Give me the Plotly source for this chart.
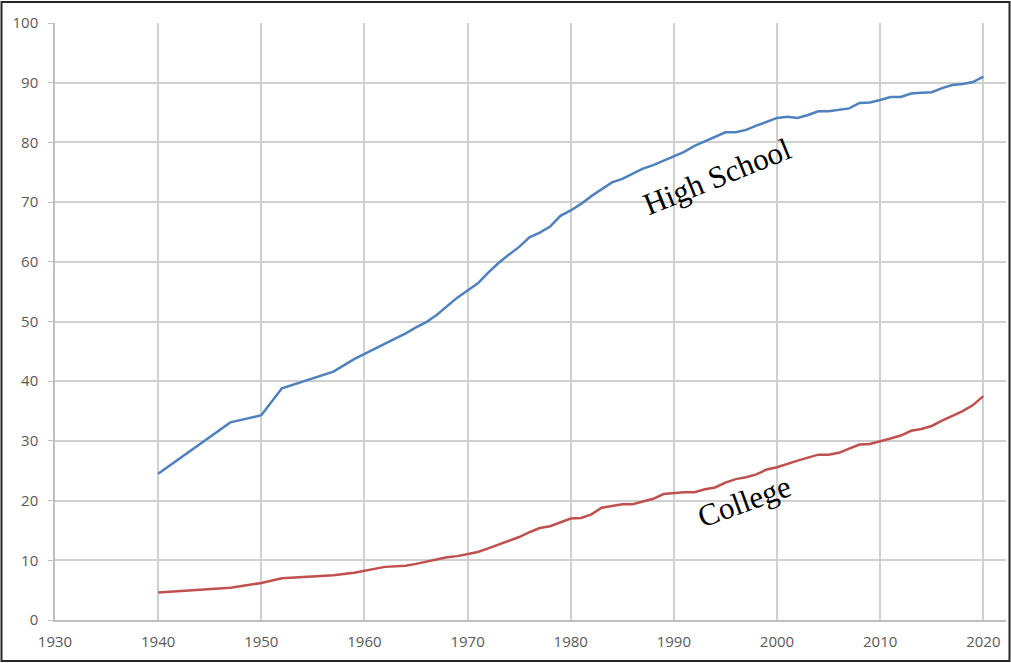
import plotly.graph_objects as go

years = [1940, 1947, 1950, 1952, 1957, 1959, 1962, 1964, 1965, 1966, 1967, 1968, 1969,
         1970, 1971, 1972, 1973, 1974, 1975, 1976, 1977, 1978, 1979, 1980, 1981, 1982,
         1983, 1984, 1985, 1986, 1987, 1988, 1989, 1990, 1991, 1992, 1993, 1994, 1995,
         1996, 1997, 1998, 1999, 2000, 2001, 2002, 2003, 2004, 2005, 2006, 2007, 2008,
         2009, 2010, 2011, 2012, 2013, 2014, 2015, 2016, 2017, 2018, 2019, 2020]

high_school = [24.5, 33.1, 34.3, 38.8, 41.6, 43.7, 46.3, 48.0, 49.0, 49.9, 51.1, 52.6, 54.0,
               55.2, 56.4, 58.2, 59.8, 61.2, 62.5, 64.1, 64.9, 65.9, 67.7, 68.6, 69.7, 71.0,
               72.1, 73.3, 73.9, 74.7, 75.6, 76.2, 76.9, 77.6, 78.4, 79.4, 80.2, 80.9, 81.7,
               81.7, 82.1, 82.8, 83.4, 84.1, 84.3, 84.1, 84.6, 85.2, 85.2, 85.5, 85.7, 86.6,
               86.7, 87.1, 87.6, 87.6, 88.2, 88.3, 88.4, 89.1, 89.6, 89.8, 90.1, 91.0]

college = [4.6, 5.4, 6.2, 7.0, 7.5, 7.9, 8.9, 9.1, 9.4, 9.8, 10.1, 10.5, 10.7,
           11.0, 11.4, 12.0, 12.6, 13.3, 13.9, 14.7, 15.4, 15.7, 16.4, 17.0, 17.1, 17.7,
           18.8, 19.1, 19.4, 19.4, 19.9, 20.3, 21.1, 21.3, 21.4, 21.4, 21.9, 22.2, 23.0,
           23.6, 23.9, 24.4, 25.2, 25.6, 26.2, 26.7, 27.2, 27.7, 27.7, 28.0, 28.7, 29.4,
           29.5, 29.9, 30.4, 30.9, 31.7, 32.0, 32.5, 33.4, 34.2, 35.0, 36.0, 37.5]

x_ticks = [1930, 1940, 1950, 1960, 1970, 1980, 1990, 2000, 2010, 2020]
y_ticks = [0, 10, 20, 30, 40, 50, 60, 70, 80, 90, 100]

fig = go.Figure()
fig.add_trace(go.Scatter(x=years, y=high_school, mode="lines", name="High School",
                         line=dict(color="#4F81BD", width=2.5)))
fig.add_trace(go.Scatter(x=years, y=college, mode="lines", name="College",
                         line=dict(color="#C0504D", width=2.5)))

W, H = 1011, 663
ml, mr, mt, mb = 55, 5, 23, 43
pw, ph = W - ml - mr, H - mt - mb

fig.add_annotation(x=1994.2, y=74.3, text="High School", showarrow=False, textangle=-22,
                   xanchor="center", yanchor="middle",
                   font=dict(family="Liberation Serif", size=31, color="#000000"))
fig.add_annotation(x=1996.8, y=19.9, text="College", showarrow=False, textangle=-20,
                   xanchor="center", yanchor="middle",
                   font=dict(family="Liberation Serif", size=31, color="#000000"))

# outer border
fig.add_shape(type="rect", xref="paper", yref="paper",
              x0=(1.5 - ml) / pw, x1=(1009.5 - ml) / pw,
              y0=(H - mb - 661) / ph, y1=(H - mb - 2) / ph,
              line=dict(color="#262626", width=2), fillcolor="rgba(0,0,0,0)", layer="above")

fig.update_layout(
    width=W, height=H,
    margin=dict(l=ml, r=mr, t=mt, b=mb),
    paper_bgcolor="white", plot_bgcolor="white",
    showlegend=False,
    font=dict(family="Open Sans", size=15, color="#595959"),
    xaxis=dict(range=[1930, 2022.2], tickvals=x_ticks, ticktext=[str(v) for v in x_ticks],
               showgrid=True, gridcolor="#d0d0d0", gridwidth=1.5,
               showline=True, linecolor="#bfbfbf", linewidth=1.5,
               zeroline=False, ticks="", ticklabelstandoff=7),
    yaxis=dict(range=[0, 100], tickvals=y_ticks, ticktext=[str(v) for v in y_ticks],
               showgrid=True, gridcolor="#d0d0d0", gridwidth=1.5,
               showline=True, linecolor="#bfbfbf", linewidth=1.5,
               zeroline=False, ticks="outside", ticklen=5, tickcolor="#bfbfbf",
               ticklabelstandoff=7),
)

fig.write_html("out.html", config={"displayModeBar": False},
               post_script="document.body.style.margin='0';document.body.style.overflow='hidden';")
